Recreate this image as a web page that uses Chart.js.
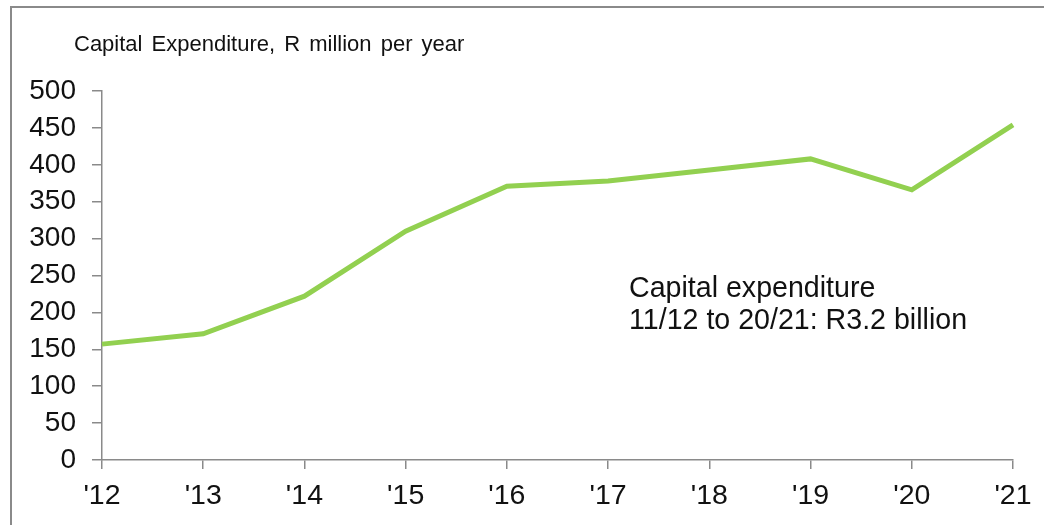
<!DOCTYPE html>
<html>
<head>
<meta charset="utf-8">
<script src="https://cdn.jsdelivr.net/npm/chart.js@4.4.1/dist/chart.umd.min.js"></script>
<style>
  html, body { margin: 0; padding: 0; background: #fff; }
  #wrap { position: relative; width: 1044px; height: 525px; }
</style>
</head>
<body>
<div id="wrap"><canvas id="capexChart" width="1044" height="525"></canvas></div>
<script>
var years = ["'12", "'13", "'14", "'15", "'16", "'17", "'18", "'19", "'20", "'21"];
var capex = [157, 171, 222, 310, 371, 378, 393, 408, 366, 454];
var yTicks = [0, 50, 100, 150, 200, 250, 300, 350, 400, 450, 500];

var titleText = "Capital Expenditure, R million per year";
var noteLines = ["Capital expenditure", "11/12 to 20/21: R3.2 billion"];

// frame, title and the note text
var extras = {
    id: 'extras',
    beforeDraw: function(chart) {
        var ctx = chart.ctx;
        ctx.save();
        ctx.fillStyle = '#8a8a8a';
        ctx.fillRect(10, 6, 1034, 2);
        ctx.fillRect(10, 6, 2, 519);
        ctx.restore();
    },
    afterDraw: function(chart) {
        var ctx = chart.ctx;
        ctx.save();
        ctx.fillStyle = '#111';
        ctx.textBaseline = 'alphabetic';
        ctx.font = '22px "Liberation Sans", Arial, sans-serif';
        if ('wordSpacing' in ctx) ctx.wordSpacing = '3px';
        ctx.fillText(titleText, 74, 51);
        if ('wordSpacing' in ctx) ctx.wordSpacing = '0px';
        ctx.font = '28.6px "Liberation Sans", Arial, sans-serif';
        ctx.fillText(noteLines[0], 629, 297);
        ctx.fillText(noteLines[1], 629, 329);
        ctx.restore();
    }
};

var ctx = document.getElementById('capexChart').getContext('2d');
var myLineChart = new Chart(ctx, {
    type: 'line',
    data: {
        labels: years,
        datasets: [{
            data: capex,
            borderColor: '#92d050',
            borderWidth: 5,
            pointRadius: 0,
            tension: 0,
            fill: false
        }]
    },
    options: {
        responsive: false,
        animation: false,
        layout: { padding: { top: 91, left: 12, right: 31, bottom: 15 } },
        plugins: { legend: { display: false }, tooltip: { enabled: false } },
        scales: {
            x: {
                offset: false,
                grid: { drawOnChartArea: false, drawTicks: true, tickLength: 9, color: '#8a8a8a', lineWidth: 1.5 },
                border: { display: true, color: '#8a8a8a', width: 1.5 },
                ticks: { color: '#111', padding: 10, maxRotation: 0, autoSkip: false,
                         font: { family: '"Liberation Sans", Arial, sans-serif', size: 28.5 } },
                afterFit: function(scale) { scale.height = 50; }
            },
            y: {
                min: 0,
                max: 500,
                afterBuildTicks: function(scale) { scale.ticks = yTicks.map(function(v) { return { value: v }; }); },
                grid: { drawOnChartArea: false, drawTicks: true, tickLength: 10, color: '#8a8a8a', lineWidth: 1.5 },
                border: { display: true, color: '#8a8a8a', width: 1.5 },
                ticks: { color: '#111', padding: 16,
                         font: { family: '"Liberation Sans", Arial, sans-serif', size: 28 } },
                afterFit: function(scale) { scale.width = 90; }
            }
        }
    },
    plugins: [extras]
});
</script>
</body>
</html>
